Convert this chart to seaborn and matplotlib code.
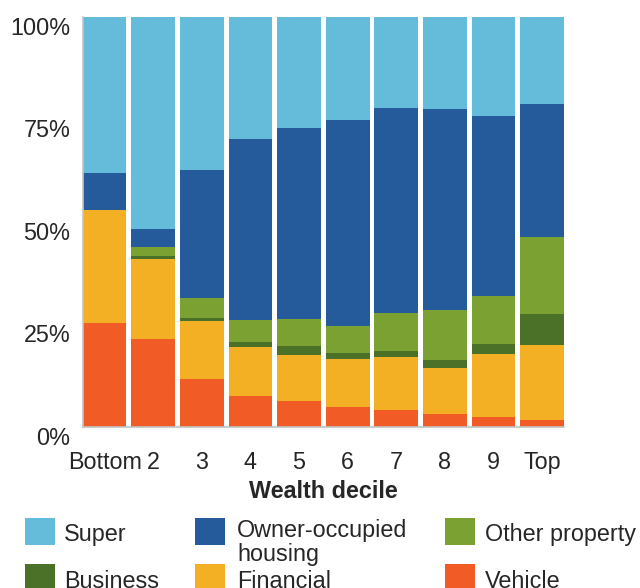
import matplotlib
matplotlib.use("Agg")
import matplotlib.pyplot as plt
from matplotlib.patches import Rectangle
import numpy as np
import seaborn as sns

sns.set_style("white")
plt.rcParams["font.family"] = ["Liberation Sans", "DejaVu Sans"]

# Share of wealth by asset type, per wealth decile (%)
deciles = ["Bottom", "2", "3", "4", "5", "6", "7", "8", "9", "Top"]
vehicle = [25.4, 21.3, 11.7, 7.6, 6.3, 4.9, 4.1, 3.2, 2.4, 1.7]
financial = [27.5, 19.7, 14.0, 11.8, 11.3, 11.6, 13.0, 11.2, 15.4, 18.3]
business = [0.0, 0.7, 0.8, 1.3, 2.2, 1.5, 1.4, 1.9, 2.4, 7.6]
other_property = [0.0, 2.1, 4.9, 5.3, 6.5, 6.6, 9.3, 12.2, 11.8, 18.7]
housing = [9.0, 4.4, 31.2, 44.2, 46.6, 50.1, 50.0, 48.9, 43.8, 32.5]
superann = [38.1, 51.8, 37.4, 29.8, 27.1, 25.3, 22.2, 22.6, 24.2, 21.2]

# bottom -> top stacking order
components = ["Vehicle", "Financial", "Business", "Other property",
              "Owner-occupied\nhousing", "Super"]
colors = ["#F15B26", "#F3B024", "#4B7028", "#7AA131", "#265B9B", "#64BBDA"]

yticks = [0, 25, 50, 75, 100]

W, H = 640, 588
FS = 16.8
GREY = "#c4c4c4"

fig = plt.figure(figsize=(W / 100, H / 100), dpi=100)
ax = fig.add_axes([82.7 / W, 1 - 426.7 / H, (564 - 82.7) / W, (426.7 - 16.7) / H])

values = np.array([vehicle, financial, business, other_property, housing, superann])
tops = np.cumsum(values, axis=0)

# draw cumulative heights from the top layer down so each layer covers the one above
for color, top in reversed(list(zip(colors, tops))):
    sns.barplot(x=deciles, y=top, color=color, width=0.9, saturation=1,
                errorbar=None, linewidth=0, ax=ax)

ax.set_xlim(-0.45, 9.45)
ax.set_ylim(0, 100)
ax.set_yticks(yticks)
ax.set_yticklabels([f"{v}%" for v in yticks])
for lab in ax.get_yticklabels():
    lab.set_va("top")
ax.set_ylabel("")
ax.set_xlabel("Wealth decile", fontsize=FS, fontweight="bold", labelpad=4)

ax.tick_params(axis="y", length=5.4, width=1.1, color=GREY, pad=3.6, labelsize=FS)
ax.tick_params(axis="x", length=0, pad=17.5, labelsize=FS)
for side in ["top", "right"]:
    ax.spines[side].set_visible(False)
for side in ["left", "bottom"]:
    ax.spines[side].set_color(GREY)
    ax.spines[side].set_linewidth(1.2)

# Legend laid out by hand (3 columns, 2 rows, one label wraps)
legend_order = [5, 4, 3, 2, 1, 0]  # Super, Owner-occupied, Other, Business, Financial, Vehicle
sq_x = [24.5, 195, 445]
txt_x = [64, 237, 485]
row_top = [517.5, 564]
txt_top = [523, 570]
for k, idx in enumerate(legend_order):
    r, c = divmod(k, 3)
    fig.add_artist(Rectangle((sq_x[c] / W, 1 - (row_top[r] + 27) / H), 30 / W, 27 / H,
                             transform=fig.transFigure, facecolor=colors[idx],
                             edgecolor="none"))
    ty = txt_top[r] - (4 if "\n" in components[idx] else 0)
    fig.text(txt_x[c] / W, 1 - ty / H, components[idx], fontsize=FS,
             ha="left", va="top", linespacing=1.05)

fig.savefig("out.png", dpi=100)
